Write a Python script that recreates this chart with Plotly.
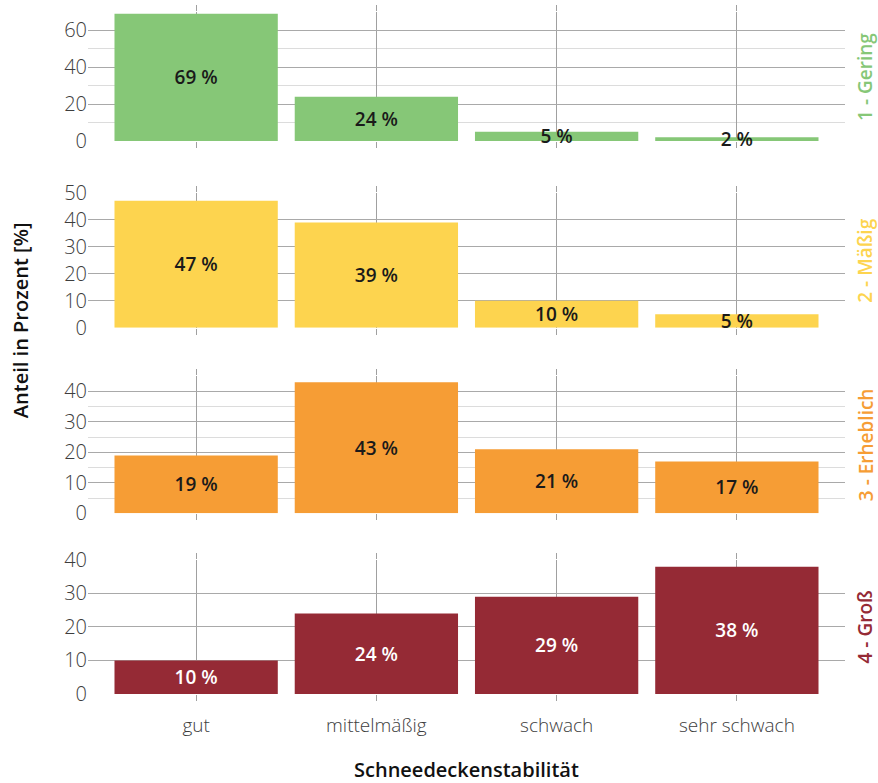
import plotly.graph_objects as go

categories = ["gut", "mittelmäßig", "schwach", "sehr schwach"]

levels = ["1 - Gering", "2 - Mäßig", "3 - Erheblich", "4 - Groß"]
gering = [69, 24, 5, 2]
maessig = [47, 39, 10, 5]
erheblich = [19, 43, 21, 17]
gross = [10, 24, 29, 38]

colors = ["#86c777", "#fdd44f", "#f69d35", "#952a35"]
text_colors = ["#1a1a1a", "#1a1a1a", "#1a1a1a", "#ffffff"]

# per-panel y settings: (range top, major dtick, minor dtick or None)
y_setup = [(70, 20, 10), (50, 10, None), (45, 10, 5), (40, 10, None)]
domains = [(0.811, 1.0), (0.537, 0.735), (0.265, 0.466), (0.0, 0.1965)]

FONT = "Open Sans"
grid_major = "#a9a9a9"
grid_minor = "#dcdcdc"
vgrid = "#a0a0a0"
tick_grey = "#3d3d3d"

fig = go.Figure()
series = [gering, maessig, erheblich, gross]

for i, vals in enumerate(series):
    n = "" if i == 0 else str(i + 1)
    fig.add_trace(go.Bar(
        x=categories,
        y=vals,
        xaxis="x" + n,
        yaxis="y" + n,
        marker=dict(color=colors[i], line=dict(width=0)),
        text=[f"{v} %" for v in vals],
        textposition="inside",
        insidetextanchor="middle",
        textangle=0,
        textfont=dict(family=FONT, size=19, color=text_colors[i], weight=600),
        cliponaxis=False,
        showlegend=False,
        hoverinfo="skip",
    ))

    top, dt, mdt = y_setup[i]
    yax = dict(
        domain=list(domains[i]),
        anchor="x" + n,
        range=[0, top],
        dtick=dt,
        tick0=0,
        showgrid=True,
        gridcolor=grid_major,
        gridwidth=1,
        zeroline=False,
        showline=False,
        ticks="",
        automargin=False,
        tickfont=dict(family=FONT, size=20, color=tick_grey, weight=300),
        fixedrange=True,
    )
    if mdt:
        yax["minor"] = dict(dtick=mdt, showgrid=True, gridcolor=grid_minor, gridwidth=1, ticks="")
    xax = dict(
        anchor="y" + n,
        domain=[0, 1],
        range=[-0.6, 3.6],
        showgrid=True,
        gridcolor=vgrid,
        gridwidth=1,
        ticks="outside",
        ticklen=6,
        tickcolor=vgrid,
        mirror="ticks",
        showline=False,
        zeroline=False,
        automargin=False,
        showticklabels=(i == 3),
        tickfont=dict(family=FONT, size=19, color=tick_grey, weight=300),
        ticklabelstandoff=8,
        fixedrange=True,
    )
    if i > 0:
        xax["matches"] = "x"
    fig.update_layout({"yaxis" + n: yax, "xaxis" + n: xax})

    d0, d1 = domains[i]
    fig.add_annotation(
        text=levels[i], xref="paper", yref="paper",
        x=1.027, y=(d0 + d1) / 2, textangle=-90,
        showarrow=False, xanchor="center", yanchor="middle",
        font=dict(family=FONT, size=19, color=colors[i], weight=600),
    )

fig.add_annotation(
    text="Anteil in Prozent [%]", xref="paper", yref="paper",
    x=-0.09, y=0.548, textangle=-90, showarrow=False,
    xanchor="center", yanchor="middle",
    font=dict(family=FONT, size=20, color="#111111", weight=600),
)
fig.add_annotation(
    text="Schneedeckenstabilität", xref="paper", yref="paper",
    x=0.5, y=-0.111, showarrow=False,
    xanchor="center", yanchor="middle",
    font=dict(family=FONT, size=20, color="#111111", weight=600),
)

fig.update_layout(
    width=878,
    height=783,
    margin=dict(l=88, r=33, t=12, b=89, autoexpand=False),
    paper_bgcolor="white",
    plot_bgcolor="white",
    bargap=0.094,
    uniformtext=dict(minsize=19, mode="show"),
    font=dict(family=FONT),
)

# drop the default body margin so the figure sits at the page corner
fig.write_html(
    "out.html",
    config={"displayModeBar": False},
    post_script="document.body.style.margin='0';document.body.style.overflow='hidden';",
)
